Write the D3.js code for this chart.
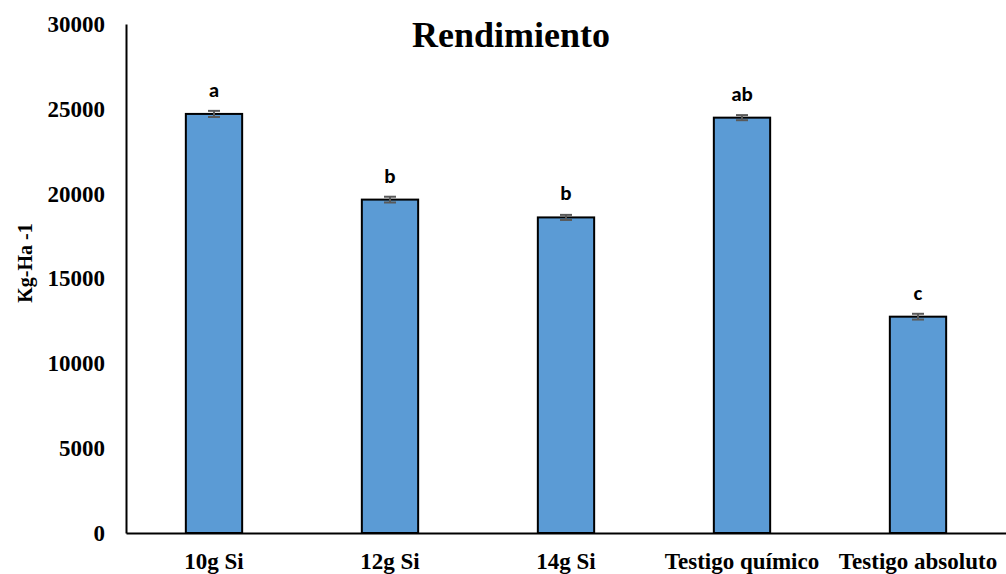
<!DOCTYPE html>
<html>
<head>
<meta charset="utf-8">
<script src="https://cdn.jsdelivr.net/npm/d3@7"></script>
<style>
  body { margin: 0; background: #fff; }
  svg { display: block; }
</style>
</head>
<body>
<svg id="chart" width="1006" height="574"></svg>
<script>
// Rendimiento por tratamiento (Kg-Ha -1)
const categories = ["10g Si", "12g Si", "14g Si", "Testigo químico", "Testigo absoluto"];
const values = [24700, 19650, 18600, 24480, 12750];
const errors = [180, 170, 150, 150, 170];
const letters = ["a", "b", "b", "ab", "c"];
const yTicks = [0, 5000, 10000, 15000, 20000, 25000, 30000];

const svg = d3.select("#chart");
const margin = { left: 126, right: 0, top: 24, bottom: 41 };
const width = 1006, height = 574;

const x = d3.scaleBand()
  .domain(categories)
  .range([margin.left, width - margin.right])
  .paddingInner(0.68)
  .paddingOuter(0.34);

const y = d3.scaleLinear()
  .domain([0, 30000])
  .range([height - margin.bottom, margin.top]);

const serif = "'Liberation Serif', 'Times New Roman', serif";
const sans = "Carlito, Calibri, 'Liberation Sans', Arial, sans-serif";

// Y axis
const yAxis = svg.append("g")
  .attr("transform", `translate(${margin.left},0)`)
  .call(d3.axisLeft(y).tickValues(yTicks).tickSize(0).tickPadding(21).tickFormat(d3.format("d")));
yAxis.select(".domain").attr("stroke", "#000").attr("stroke-width", 2);
yAxis.selectAll("text")
  .attr("font-family", serif).attr("font-weight", "bold").attr("font-size", 23).attr("fill", "#000");

// Bars
svg.append("g").selectAll("rect")
  .data(values)
  .join("rect")
  .attr("x", (d, i) => x(categories[i]))
  .attr("y", d => y(d))
  .attr("width", x.bandwidth())
  .attr("height", d => y(0) - y(d))
  .attr("fill", "#5B9BD5")
  .attr("stroke", "#000")
  .attr("stroke-width", 2);

// Error bars
const eb = svg.append("g").attr("stroke", "#595959").attr("stroke-width", 2);
values.forEach((v, i) => {
  const cx = x(categories[i]) + x.bandwidth() / 2;
  const y1 = y(v + errors[i]), y2 = y(v - errors[i]);
  eb.append("line").attr("x1", cx).attr("x2", cx).attr("y1", y1).attr("y2", y2);
  eb.append("line").attr("x1", cx - 6).attr("x2", cx + 6).attr("y1", y1).attr("y2", y1);
  eb.append("line").attr("x1", cx - 6).attr("x2", cx + 6).attr("y1", y2).attr("y2", y2);
});

// Significance letters
svg.append("g").selectAll("text")
  .data(letters)
  .join("text")
  .attr("x", (d, i) => x(categories[i]) + x.bandwidth() / 2)
  .attr("y", (d, i) => y(values[i]) - 17)
  .attr("text-anchor", "middle")
  .attr("font-family", sans).attr("font-weight", "bold").attr("font-size", 21)
  .attr("fill", "#000")
  .text(d => d);

// X axis
const xAxis = svg.append("g")
  .attr("transform", `translate(0,${y(0)})`)
  .call(d3.axisBottom(x).tickSize(0).tickPadding(20));
xAxis.select(".domain").attr("stroke", "#000").attr("stroke-width", 2);
xAxis.selectAll("text")
  .attr("font-family", serif).attr("font-weight", "bold").attr("font-size", 23).attr("fill", "#000");

// Title
svg.append("text")
  .attr("x", 511).attr("y", 47)
  .attr("text-anchor", "middle")
  .attr("font-family", serif).attr("font-weight", "bold").attr("font-size", 36)
  .text("Rendimiento");

// Y label
svg.append("text")
  .attr("transform", "translate(32,263) rotate(-90)")
  .attr("text-anchor", "middle")
  .attr("font-family", serif).attr("font-weight", "bold").attr("font-size", 20)
  .text("Kg-Ha -1");
</script>
</body>
</html>
